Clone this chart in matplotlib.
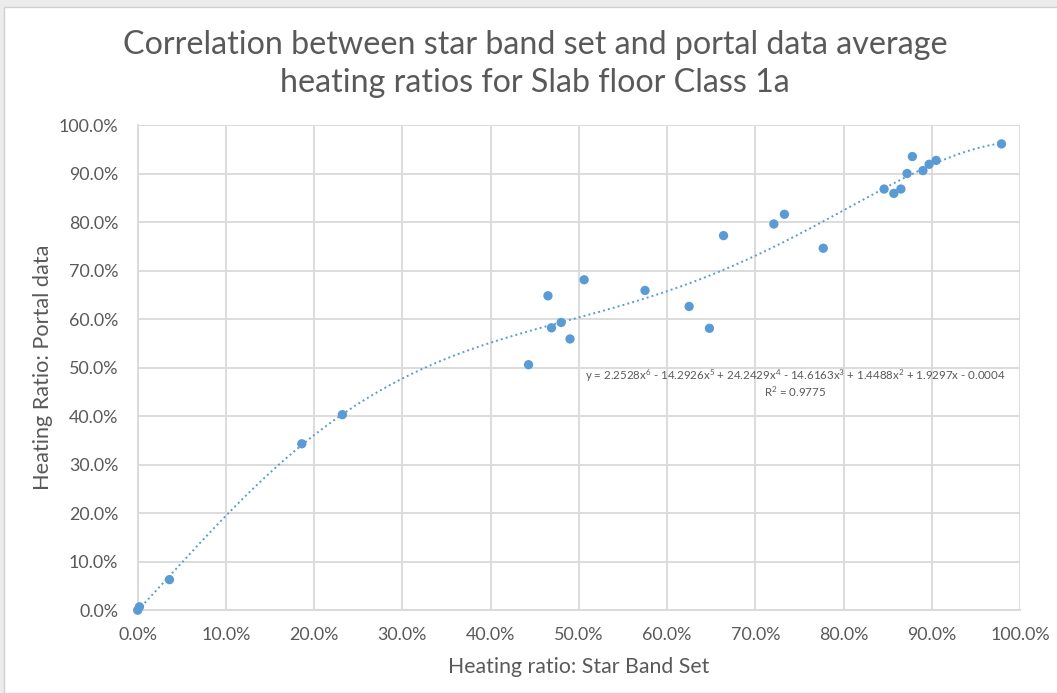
import matplotlib.pyplot as plt
import matplotlib.patches as patches
from matplotlib.ticker import PercentFormatter
import numpy as np

plt.rcParams['font.family'] = ['Lato', 'DejaVu Sans']
plt.rcParams['mathtext.default'] = 'regular'

# Scatter data (fractions)
star_band = [0.0, 0.002, 0.036, 0.186, 0.232, 0.443, 0.465, 0.469, 0.480, 0.490,
             0.506, 0.575, 0.625, 0.648, 0.664, 0.721, 0.733, 0.777, 0.846, 0.857,
             0.865, 0.872, 0.878, 0.890, 0.897, 0.905, 0.979]
portal = [0.0, 0.007, 0.063, 0.343, 0.403, 0.506, 0.648, 0.582, 0.593, 0.559,
          0.681, 0.659, 0.626, 0.581, 0.772, 0.796, 0.816, 0.746, 0.868, 0.859,
          0.868, 0.900, 0.935, 0.906, 0.919, 0.927, 0.961]

# 6th order trendline coefficients (highest power first)
trend_coef = [2.2528, -14.2926, 24.2429, -14.6163, 1.4488, 1.9297, -0.0004]
r_squared = 0.9775

blue = '#5b9bd5'
grey_text = '#595959'
grid_col = '#d9d9d9'

fig = plt.figure(figsize=(10.57, 6.93), dpi=100)
fig.patch.set_facecolor('#ececec')
fig.patches.append(patches.Rectangle((4 / 1057, 0), 1, 1 - 7 / 693, transform=fig.transFigure,
                                     facecolor='white', edgecolor='#d0d0d0', lw=1, zorder=-10))

ax = fig.add_axes([137.7 / 1057, 1 - 610.2 / 693, (1020 - 137.7) / 1057, (610.2 - 125) / 693])
ax.set_facecolor('white')

# trendline
xs = np.linspace(0, max(star_band), 300)
ax.plot(xs, np.polyval(trend_coef, xs), linestyle=(0, (1, 1.6)), color=blue, lw=1.4, zorder=2)
ax.scatter(star_band, portal, s=45, color=blue, zorder=3, edgecolors='none', clip_on=False)

ax.set_xlim(0, 1)
ax.set_ylim(0, 1)
ax.set_xticks(np.arange(0, 1.01, 0.1))
ax.set_yticks(np.arange(0, 1.01, 0.1))
ax.xaxis.set_major_formatter(PercentFormatter(xmax=1, decimals=1))
ax.yaxis.set_major_formatter(PercentFormatter(xmax=1, decimals=1))
ax.tick_params(length=0, labelsize=12.9, labelcolor=grey_text)
ax.tick_params(axis='x', pad=12)
ax.tick_params(axis='y', pad=14)
ax.grid(True, color=grid_col, lw=1.3)
ax.set_axisbelow(True)
for side in ['top', 'right']:
    ax.spines[side].set_visible(False)
for side in ['left', 'bottom']:
    ax.spines[side].set_color(grid_col)
    ax.spines[side].set_linewidth(1.3)

ax.set_xlabel('Heating ratio: Star Band Set', fontsize=15.3, color=grey_text, labelpad=10)
ax.set_ylabel('Heating Ratio: Portal data', fontsize=15.6, color=grey_text, labelpad=4)

fig.text(535 / 1057, 1 - 64 / 693,
         'Correlation between star band set and portal data average\nheating ratios for Slab floor Class 1a',
         ha='center', va='center', fontsize=23.2, color=grey_text, linespacing=1.36)

eq = ('y = 2.2528x$^{6}$ - 14.2926x$^{5}$ + 24.2429x$^{4}$ - 14.6163x$^{3}$'
      ' + 1.4488x$^{2}$ + 1.9297x - 0.0004')
ax.text(0.745, 0.483, eq, ha='center', va='center', fontsize=8.3, color=grey_text)
ax.text(0.745, 0.450, 'R$^{2}$ = ' + str(r_squared), ha='center', va='center',
        fontsize=8.3, color=grey_text)

plt.savefig('out.png', dpi=100, facecolor=fig.get_facecolor())
